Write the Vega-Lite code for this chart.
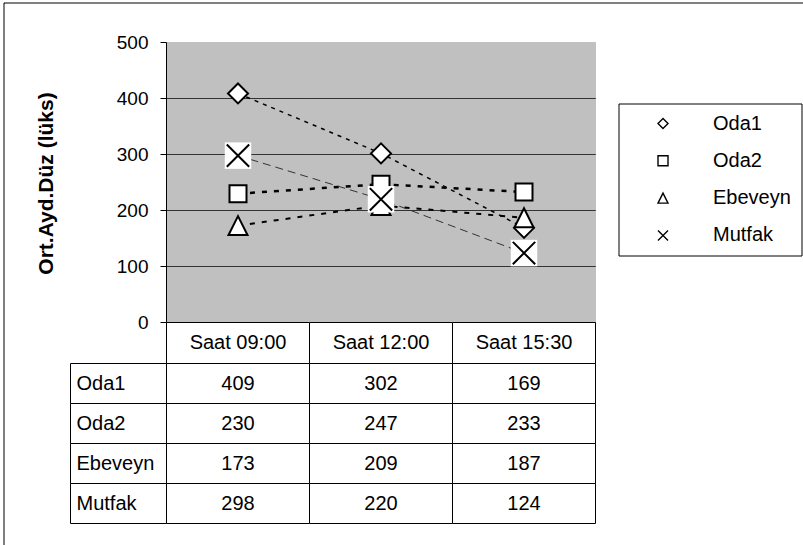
{
  "$schema": "https://vega.github.io/schema/vega-lite/v6.json",
  "width": 799.5,
  "height": 542.5,
  "autosize": {"type": "none"},
  "padding": {"left": 3.5, "top": 2.5, "right": 0, "bottom": 0},
  "background": "#ffffff",
  "config": {
    "view": {"stroke": "#000000", "strokeWidth": 1, "fill": "#ffffff", "strokeDash": [799.5, 1342, 542.5]},
    "font": "Liberation Sans",
    "text": {"font": "Liberation Sans"}
  },
  "data": {
    "values": [
      {"series": "Oda1", "time": "Saat 09:00", "value": 409},
      {"series": "Oda1", "time": "Saat 12:00", "value": 302},
      {"series": "Oda1", "time": "Saat 15:30", "value": 169},
      {"series": "Oda2", "time": "Saat 09:00", "value": 230},
      {"series": "Oda2", "time": "Saat 12:00", "value": 247},
      {"series": "Oda2", "time": "Saat 15:30", "value": 233},
      {"series": "Ebeveyn", "time": "Saat 09:00", "value": 173},
      {"series": "Ebeveyn", "time": "Saat 12:00", "value": 209},
      {"series": "Ebeveyn", "time": "Saat 15:30", "value": 187},
      {"series": "Mutfak", "time": "Saat 09:00", "value": 298},
      {"series": "Mutfak", "time": "Saat 12:00", "value": 220},
      {"series": "Mutfak", "time": "Saat 15:30", "value": 124}
    ]
  },
  "layer": [
    {
      "encoding": {
        "x": {"field": "time", "type": "nominal", "scale": {"type": "band", "domain": ["Saat 09:00", "Saat 12:00", "Saat 15:30"], "range": [163, 592], "paddingInner": 0, "paddingOuter": 0}, "axis": null}
      },
      "layer": [
        {
          "transform": [{"filter": "datum.series === 'Oda1'"}],
          "mark": {"type": "rect", "fill": "#c0c0c0", "stroke": "#c0c0c0", "strokeWidth": 1},
          "encoding": {
            "y": {
              "datum": 0, "type": "quantitative",
              "scale": {"domain": [0, 500], "range": [320, 40], "nice": false, "zero": true},
              "axis": {
                "orient": "left", "offset": -163, "translate": 0, "zindex": 1,
                "values": [0, 100, 200, 300, 400, 500],
                "grid": false, "tickSize": 6, "tickColor": "#000000", "domainColor": "#000000",
                "labelFont": "Liberation Sans", "labelFontSize": 19, "labelColor": "#000000", "labelPadding": 12,
                "labelFlush": false, "labelOverlap": false,
                "title": "Ort.Ayd.Düz (lüks)", "titleFont": "Liberation Sans", "titleFontSize": 21, "titleFontWeight": "bold",
                "titleColor": "#000000", "titleAngle": 270, "titleX": -120, "titleY": 181,
                "titleAlign": "center", "titleBaseline": "middle"
              }
            },
            "y2": {"datum": 500}
          }
        },
        {
          "transform": [{"filter": "datum.series === 'Oda1'"}],
          "mark": {"type": "rect", "fill": "transparent", "stroke": "#333333", "strokeWidth": 1},
          "encoding": {"y": {"datum": 100, "type": "quantitative"}, "y2": {"datum": 100}}
        },
        {
          "transform": [{"filter": "datum.series === 'Oda1'"}],
          "mark": {"type": "rect", "fill": "transparent", "stroke": "#333333", "strokeWidth": 1},
          "encoding": {"y": {"datum": 200, "type": "quantitative"}, "y2": {"datum": 200}}
        },
        {
          "transform": [{"filter": "datum.series === 'Oda1'"}],
          "mark": {"type": "rect", "fill": "transparent", "stroke": "#333333", "strokeWidth": 1},
          "encoding": {"y": {"datum": 300, "type": "quantitative"}, "y2": {"datum": 300}}
        },
        {
          "transform": [{"filter": "datum.series === 'Oda1'"}],
          "mark": {"type": "rect", "fill": "transparent", "stroke": "#333333", "strokeWidth": 1},
          "encoding": {"y": {"datum": 400, "type": "quantitative"}, "y2": {"datum": 400}}
        },
        {
          "mark": {"type": "line", "strokeCap": "butt"},
          "encoding": {
            "y": {"field": "value", "type": "quantitative"},
            "color": {
              "field": "series", "type": "nominal", "sort": ["Oda1", "Oda2", "Ebeveyn", "Mutfak"],
              "scale": {"range": ["#000000", "#000000", "#000000", "#333333"]},
              "legend": null
            },
            "strokeDash": {
              "field": "series", "type": "nominal", "sort": ["Oda1", "Oda2", "Ebeveyn", "Mutfak"],
              "scale": {"range": [[4, 5], [5, 7], [5, 7], [8, 5]]},
              "legend": null
            },
            "strokeWidth": {
              "condition": [
                {"test": "datum.series === 'Oda2'", "value": 2.5},
                {"test": "datum.series === 'Ebeveyn'", "value": 2},
                {"test": "datum.series === 'Mutfak'", "value": 1}
              ],
              "value": 1.5
            }
          }
        },
        {
          "transform": [{"filter": "datum.series !== 'Mutfak'"}],
          "mark": {"type": "point", "filled": true, "fill": "#ffffff", "stroke": "#000000", "strokeWidth": 2, "opacity": 1},
          "encoding": {
            "y": {"field": "value", "type": "quantitative"},
            "shape": {
              "field": "series", "type": "nominal",
              "scale": {"domain": ["Oda1", "Oda2", "Ebeveyn", "Mutfak"], "range": ["diamond", "square", "M0,-1L1,1L-1,1Z", "M-1,-1L1,1M1,-1L-1,1"]},
              "legend": {
                "orient": "none", "legendX": 615, "legendY": 101, "title": null,
                "symbolSize": 100, "symbolOffset": 24.5, "labelOffset": 40,
                "symbolStrokeWidth": 1.4,
                "padding": 10, "rowPadding": 17.3,
                "strokeColor": "#000000", "fillColor": "#ffffff",
                "labelFont": "Liberation Sans", "labelFontSize": 20, "labelColor": "#000000", "labelLimit": 200
              }
            },
            "size": {
              "condition": [
                {"test": "datum.series === 'Oda1'", "value": 400},
                {"test": "datum.series === 'Oda2'", "value": 289}
              ],
              "value": 361
            }
          }
        },
        {
          "transform": [{"filter": "datum.series === 'Mutfak'"}],
          "mark": {"type": "point", "shape": "square", "filled": true, "fill": "#ffffff", "strokeWidth": 0, "size": 700, "opacity": 1},
          "encoding": {"y": {"field": "value", "type": "quantitative"}}
        },
        {
          "transform": [{"filter": "datum.series === 'Mutfak'"}],
          "mark": {"type": "point", "filled": false, "fill": "transparent", "stroke": "#000000", "strokeWidth": 2, "size": 500, "opacity": 1},
          "encoding": {
            "y": {"field": "value", "type": "quantitative"},
            "shape": {
              "field": "series", "type": "nominal",
              "scale": {"domain": ["Oda1", "Oda2", "Ebeveyn", "Mutfak"], "range": ["diamond", "square", "M0,-1L1,1L-1,1Z", "M-1,-1L1,1M1,-1L-1,1"]}
            }
          }
        }
      ]
    },
    {
      "transform": [{"filter": "datum.series === 'Oda1'"}],
      "encoding": {
        "x": {"field": "time", "type": "nominal", "scale": {"type": "band", "domain": ["Saat 09:00", "Saat 12:00", "Saat 15:30"], "range": [163, 592], "paddingInner": 0, "paddingOuter": 0}, "axis": null},
        "y": {"datum": "hdr", "type": "nominal", "scale": {"type": "band", "range": [320, 361], "paddingInner": 0, "paddingOuter": 0}, "axis": null}
      },
      "layer": [
        {"mark": {"type": "rect", "fill": "#ffffff", "stroke": "#000000", "strokeWidth": 1}},
        {"mark": {"type": "text", "fontSize": 20, "color": "#000000"}, "encoding": {"text": {"field": "time", "type": "nominal"}}}
      ]
    },
    {
      "encoding": {
        "x": {"field": "time", "type": "nominal", "scale": {"type": "band", "domain": ["Saat 09:00", "Saat 12:00", "Saat 15:30"], "range": [163, 592], "paddingInner": 0, "paddingOuter": 0}, "axis": null},
        "y": {"field": "series", "type": "nominal", "scale": {"type": "band", "domain": ["Oda1", "Oda2", "Ebeveyn", "Mutfak"], "range": [361, 521], "paddingInner": 0, "paddingOuter": 0}, "axis": null}
      },
      "layer": [
        {"mark": {"type": "rect", "fill": "#ffffff", "stroke": "#000000", "strokeWidth": 1}},
        {"mark": {"type": "text", "fontSize": 20, "color": "#000000"}, "encoding": {"text": {"field": "value", "type": "quantitative"}}}
      ]
    },
    {
      "transform": [{"filter": "datum.time === 'Saat 09:00'"}],
      "encoding": {
        "x": {"datum": "lbl", "type": "nominal", "scale": {"type": "band", "range": [67, 163], "paddingInner": 0, "paddingOuter": 0}, "axis": null},
        "y": {"field": "series", "type": "nominal", "scale": {"type": "band", "domain": ["Oda1", "Oda2", "Ebeveyn", "Mutfak"], "range": [361, 521], "paddingInner": 0, "paddingOuter": 0}, "axis": null}
      },
      "layer": [
        {"mark": {"type": "rect", "fill": "#ffffff", "stroke": "#000000", "strokeWidth": 1}},
        {"mark": {"type": "text", "fontSize": 20, "color": "#000000", "align": "left", "dx": -42}, "encoding": {"text": {"field": "series", "type": "nominal"}}}
      ]
    }
  ],
  "resolve": {"scale": {"x": "independent", "y": "independent"}}
}
